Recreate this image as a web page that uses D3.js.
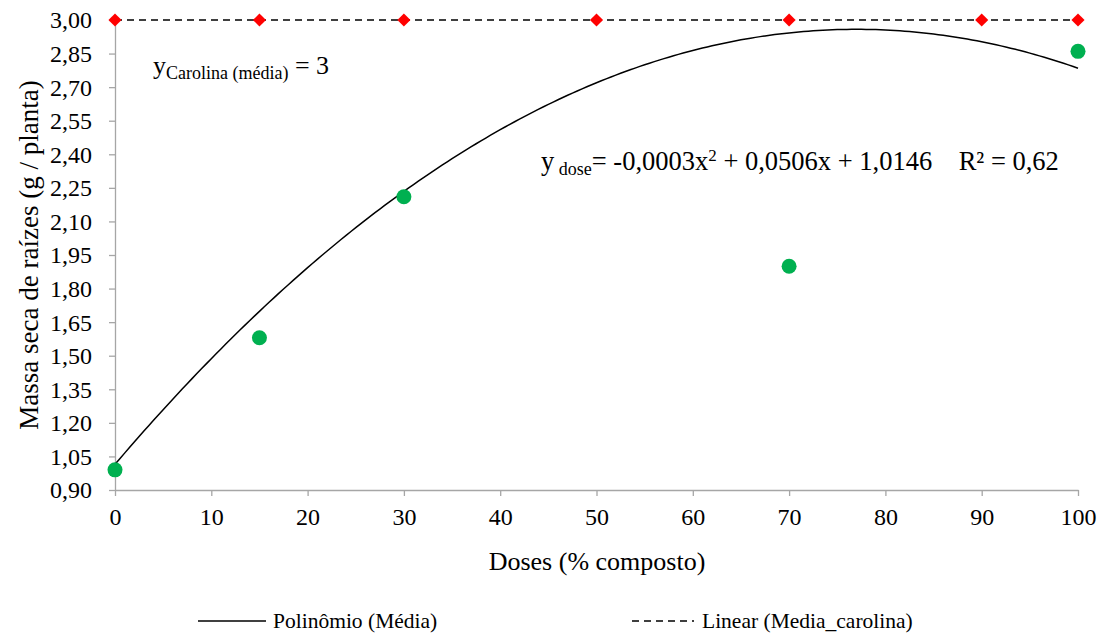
<!DOCTYPE html>
<html>
<head>
<meta charset="utf-8">
<script src="https://cdn.jsdelivr.net/npm/d3@7"></script>
<style>
  html, body { margin: 0; padding: 0; background: #fff; }
</style>
</head>
<body>
<svg id="chart" width="1104" height="633" font-family="Liberation Serif"></svg>
<script>
// Root dry mass by compost dose (means)
const doses = [0, 15, 30, 70, 100];
const massaMedia = [0.99, 1.58, 2.21, 1.90, 2.86];

// Reference cultivar (Carolina) mean, constant across doses
const dosesCarolina = [0, 15, 30, 50, 70, 90, 100];
const massaCarolina = [3, 3, 3, 3, 3, 3, 3];

// Quadratic trend coefficients (c + b·x + a·x²)
const trendCoef = [1.0146, 0.0505, -0.000328];

const xTicks = [0, 10, 20, 30, 40, 50, 60, 70, 80, 90, 100];
const yTicks = [0.90, 1.05, 1.20, 1.35, 1.50, 1.65, 1.80, 1.95, 2.10, 2.25, 2.40, 2.55, 2.70, 2.85, 3.00];

const FONT = "Liberation Serif";
const svg = d3.select("#chart");

const x = d3.scaleLinear().domain([0, 100]).range([115, 1078]);
const y = d3.scaleLinear().domain([0.90, 3.00]).range([490, 20]);

const fmt = v => d3.format(".2f")(v).replace(".", ",");
const trend = d => trendCoef[0] + trendCoef[1] * d + trendCoef[2] * d * d;
const fitPts = d3.range(0, 100.01, 0.5).map(d => [d, trend(d)]);

// Axes
const axisColor = "#a6a6a6";
const gx = svg.append("g").attr("transform", `translate(0,490)`)
  .call(d3.axisBottom(x).tickValues(xTicks).tickSize(6).tickSizeOuter(0).tickFormat(d3.format("d")));
const gy = svg.append("g").attr("transform", `translate(115,0)`)
  .call(d3.axisLeft(y).tickValues(yTicks).tickSize(6).tickSizeOuter(0).tickFormat(fmt));
[gx, gy].forEach(g => {
  g.attr("font-family", FONT).attr("font-size", 24);
  g.selectAll("path, line").attr("stroke", axisColor).attr("stroke-width", 1.3);
  g.selectAll("text").attr("fill", "#000").attr("font-family", FONT).attr("font-size", 24);
});
gx.selectAll("text").attr("y", 13).attr("dy", "0.9em");
gy.selectAll("text").attr("x", -23).attr("dy", "0.33em");

// Constant reference line (dashed)
svg.append("path")
  .datum(dosesCarolina.map((d, i) => [d, massaCarolina[i]]))
  .attr("fill", "none").attr("stroke", "#000").attr("stroke-width", 1.6)
  .attr("stroke-dasharray", "7,5")
  .attr("d", d3.line().x(d => x(d[0])).y(d => y(d[1])));

// Polynomial trend line
svg.append("path")
  .datum(fitPts)
  .attr("fill", "none").attr("stroke", "#000").attr("stroke-width", 1.5)
  .attr("d", d3.line().x(d => x(d[0])).y(d => y(d[1])));

// Red diamonds
svg.append("g").selectAll("path")
  .data(dosesCarolina.map((d, i) => [d, massaCarolina[i]]))
  .join("path")
  .attr("transform", d => `translate(${x(d[0])},${y(d[1])})`)
  .attr("d", d3.symbol(d3.symbolDiamond2, 110)())
  .attr("fill", "#ff0000");

// Green circles
svg.append("g").selectAll("circle")
  .data(doses.map((d, i) => [d, massaMedia[i]]))
  .join("circle")
  .attr("cx", d => x(d[0])).attr("cy", d => y(d[1]))
  .attr("r", 7.5).attr("fill", "#00b050");

// Axis titles
svg.append("text").attr("x", 597).attr("y", 570).attr("text-anchor", "middle")
  .attr("font-family", FONT).attr("font-size", 26).text("Doses (% composto)");
svg.append("text").attr("transform", "translate(38,255) rotate(-90)")
  .attr("text-anchor", "middle").attr("font-family", FONT).attr("font-size", 27)
  .text("Massa seca de raízes (g / planta)");

// Annotations
const a1 = svg.append("text").attr("x", 153).attr("y", 74).attr("font-family", FONT).attr("font-size", 26);
a1.append("tspan").text("y");
a1.append("tspan").attr("font-size", 18).attr("dy", 5).text("Carolina (média)");
a1.append("tspan").attr("dy", -5).text(" = 3");

const a2 = svg.append("text").attr("x", 541).attr("y", 170).attr("font-family", FONT).attr("font-size", 26.5);
a2.append("tspan").text("y");
a2.append("tspan").attr("font-size", 18).attr("dy", 5).text(" dose");
a2.append("tspan").attr("dy", -5).text("= -0,0003x");
a2.append("tspan").attr("font-size", 17).attr("dy", -9).text("2");
a2.append("tspan").attr("dy", 9).text(" + 0,0506x + 1,0146\u00a0\u00a0\u00a0\u00a0R² = 0,62");

// Legend
const lg = svg.append("g").attr("font-family", FONT).attr("font-size", 21.5);
lg.append("line").attr("x1", 198).attr("x2", 266).attr("y1", 621).attr("y2", 621)
  .attr("stroke", "#000").attr("stroke-width", 1.3);
lg.append("text").attr("x", 273).attr("y", 628).text("Polinômio (Média)");
lg.append("line").attr("x1", 632).attr("x2", 694).attr("y1", 621).attr("y2", 621)
  .attr("stroke", "#000").attr("stroke-width", 1.3).attr("stroke-dasharray", "7,5");
lg.append("text").attr("x", 702).attr("y", 628).text("Linear (Media_carolina)");
</script>
</body>
</html>
